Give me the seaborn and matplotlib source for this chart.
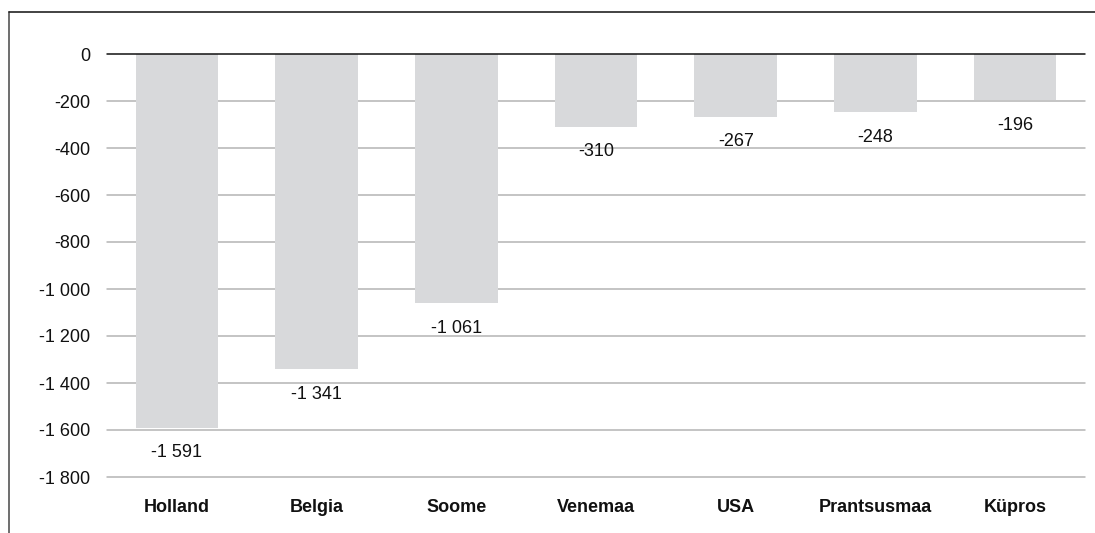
import matplotlib
matplotlib.use('Agg')
import matplotlib.pyplot as plt
import seaborn as sns
import pandas as pd
from matplotlib.lines import Line2D
from matplotlib.ticker import FuncFormatter

countries = ['Holland', 'Belgia', 'Soome', 'Venemaa', 'USA', 'Prantsusmaa', 'Küpros']
values = [-1591, -1341, -1061, -310, -267, -248, -196]

df = pd.DataFrame({'riik': countries, 'vaartus': values})

sns.set_style('white')
plt.rcParams['font.family'] = ['Liberation Sans', 'DejaVu Sans']


def fmt(v):
    return f'{int(round(v)):,}'.replace(',', ' ')


fig = plt.figure(figsize=(10.95, 5.33), dpi=100)
ax = fig.add_axes([107 / 1095, 1 - 477 / 533, 978 / 1095, 423 / 533])

# ruudustik
for y in range(-1800, 1, 200):
    ax.axhline(y, color='#111111' if y == 0 else '#b4b4b4', lw=1.1,
               zorder=3 if y == 0 else 0, clip_on=False)

sns.barplot(data=df, x='riik', y='vaartus', color='#d8d9db', saturation=1,
            width=0.59, linewidth=0, ax=ax, zorder=2)

for i, v in enumerate(values):
    ax.annotate(fmt(v), (i, v), xytext=(0, -18), textcoords='offset points',
                ha='center', va='center', fontsize=13, color='#111111')

ax.set_ylim(-1800, 0)
ax.set_xlim(-0.5, len(countries) - 0.5)
ax.set_yticks(range(-1800, 1, 200))
ax.yaxis.set_major_formatter(FuncFormatter(lambda v, p: fmt(v)))
ax.tick_params(axis='y', length=0, pad=12, labelsize=13, labelcolor='#111111')
ax.tick_params(axis='x', length=0, pad=16, labelsize=13, labelcolor='#111111')
for lab in ax.get_xticklabels():
    lab.set_fontweight('bold')
ax.set_xlabel('')
ax.set_ylabel('')
for s in ax.spines.values():
    s.set_visible(False)

# raam
fig.add_artist(Line2D([9 / 1095, 9 / 1095], [0, 1 - 12 / 533], color='#555555', lw=1.2))
fig.add_artist(Line2D([9 / 1095, 1], [1 - 12 / 533, 1 - 12 / 533], color='#222222', lw=1.2))

fig.savefig('out.png', dpi=100)
